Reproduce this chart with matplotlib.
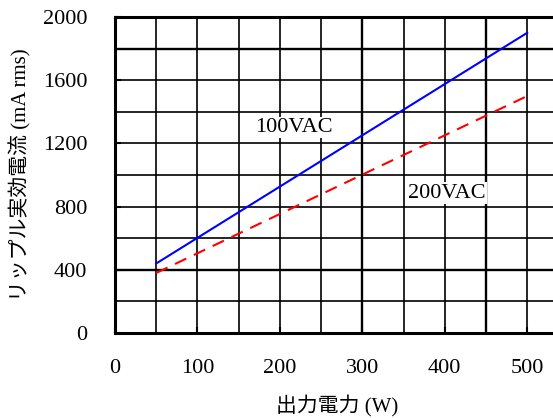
import matplotlib
matplotlib.use('Agg')
import matplotlib.pyplot as plt

plt.rcParams['font.family'] = ['Liberation Serif', 'Noto Sans CJK JP']

# data
power = [50, 500]
ripple_100vac = [440, 1900]
ripple_200vac = [380, 1500]

x_ticks = [0, 100, 200, 300, 400, 500]
y_ticks = [0, 400, 800, 1200, 1600, 2000]

fig = plt.figure(figsize=(5.53, 4.18), dpi=100)
ax = fig.add_axes([115 / 553, 1 - 333 / 418, 1 - 115 / 553 + 0.01, 316 / 418])

ax.set_xlim(0, 538)
ax.set_ylim(0, 2000)

# grid: every 50 W and every 200 mA
for gx in range(50, 550, 50):
    lw = 1.7 if gx in (300, 450) else 1.2
    ax.axvline(gx, color='black', lw=lw, zorder=1)
for gy in range(200, 2000, 200):
    lw = 1.7 if gy in (1800, 400) else 1.2
    ax.axhline(gy, color='black', lw=lw, zorder=1)

ax.plot(power, ripple_100vac, color='#0000ff', lw=1.5, zorder=3)
ax.plot(power, ripple_200vac, color='#ff0000', lw=1.5, ls=(0, (6, 4)), zorder=3)

ax.text(217, 1300, '100VAC', fontsize=16, ha='center', va='center',
        bbox=dict(facecolor='white', edgecolor='none', pad=1), zorder=4)
ax.text(402, 885, '200VAC', fontsize=16, ha='center', va='center',
        bbox=dict(facecolor='white', edgecolor='none', pad=1), zorder=4)

ax.set_xticks(x_ticks)
ax.set_yticks(y_ticks)
ax.tick_params(axis='both', direction='in', length=4, width=1.5, labelsize=16)
ax.tick_params(axis='x', pad=19)
ax.tick_params(axis='y', pad=20)

for side in ('left', 'bottom', 'top'):
    ax.spines[side].set_linewidth(2.2)
ax.spines['right'].set_visible(False)

ax.set_xlabel('出力電力 (W)', fontsize=15, labelpad=12)
ax.set_ylabel('リップル実効電流 (mA rms)', fontsize=15, labelpad=8)

fig.savefig('out.png', dpi=100)
